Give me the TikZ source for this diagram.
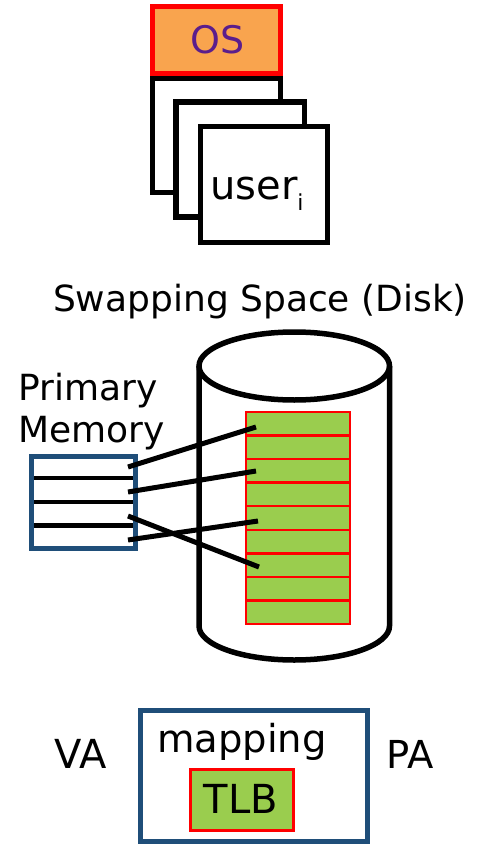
\documentclass[tikz,border=0pt]{standalone}
\usepackage{fontspec}
\setmainfont{DejaVu Sans}
\definecolor{osfill}{HTML}{F9A44E}
\definecolor{ospurple}{HTML}{5B1E8C}
\definecolor{pagegreen}{HTML}{9ACD4E}
\definecolor{memblue}{HTML}{1F4E79}
\begin{document}
\begin{tikzpicture}[x=1pt,y=-1pt,
  txt/.style={font=\fontsize{36}{42}\selectfont, inner sep=0pt},
  bigtxt/.style={font=\fontsize{39}{46}\selectfont, inner sep=0pt},
  proc/.style={draw=black, fill=white, line width=5.5pt},
  pagecell/.style={draw=red, fill=pagegreen, line width=2.5pt, minimum width=104pt, minimum height=23.55pt, inner sep=0pt},
  memrow/.style={minimum width=104pt, minimum height=23pt, inner sep=0pt},
  link/.style={line width=5pt, line cap=butt}]
\useasboundingbox (0,0) rectangle (484,845);

% process images: OS header on a stack of user pages
\draw[proc] (152.5,78.5) rectangle (280.5,192.5);
\draw[proc] (176,102) rectangle (304.5,217);
\draw[proc] (200.5,126.5) rectangle (327.5,242.5);
\draw[draw=red, fill=osfill, line width=5pt] (152.5,6.5) rectangle (280.5,74);
\node[bigtxt, font=\fontsize{38}{44}\selectfont, text=ospurple] (os) at (218,40) {OS};
\node[bigtxt, font=\fontsize{40}{46}\selectfont, anchor=base west] (user) at (210,200) {user\raisebox{-10pt}{\fontsize{22}{26}\selectfont i}};

% swap disk
\node[txt, anchor=base] (swaplbl) at (260,311) {Swapping Space (Disk)};
\draw[line width=5.5pt] (199,366) -- (199,626) arc[start angle=180, end angle=0, x radius=95.25, y radius=34] -- (389.5,366);
\draw[line width=5.5pt] (294.25,366) ellipse [x radius=95.25, y radius=34];

% pages on disk
\foreach \i in {1,...,9} {
  \node[pagecell] (c\i) at (298, {412+(\i-0.5)*23.55}) {};
}

% primary memory
\node[txt, anchor=base west] (pmlbl1) at (18,400) {Primary};
\node[txt, anchor=base west] (pmlbl2) at (18,442) {Memory};
\foreach \i in {1,...,4} {
  \node[memrow] (m\i) at (84, {456.5+(\i-0.5)*23}) {};
}
\draw[line width=4.5pt] (32,478) -- (136,478);
\draw[line width=4.5pt] (32,502) -- (136,502);
\draw[line width=4.5pt] (32,525.5) -- (136,525.5);
\draw[draw=memblue, line width=4.7pt] (31.5,456.5) rectangle (135.5,548.5);

% frame to page mappings
\coordinate (s1) at (128,467);
\coordinate (s2) at (128,492);
\coordinate (s3) at (128,516);
\coordinate (s4) at (128,540);
\coordinate (e1) at (256,427);
\coordinate (e2) at (256,471);
\coordinate (e3) at (259,567);
\coordinate (e4) at (258,521);
\draw[link] (s1) -- (e1);
\draw[link] (s2) -- (e2);
\draw[link] (s3) -- (e3);
\draw[link] (s4) -- (e4);

% address translation
\draw[draw=memblue, line width=5pt] (140.5,710) rectangle (367.5,841.5);
\node[bigtxt, font=\fontsize{38.5}{44}\selectfont, anchor=base] (map) at (242,752) {mapping};
\node[draw=red, fill=pagegreen, line width=3.3pt, minimum width=103pt, minimum height=61pt, inner sep=0pt] (tlb) at (242,800) {};
\node[bigtxt, font=\fontsize{40}{46}\selectfont, anchor=base] at (241,813) {TLB};
\node[bigtxt, font=\fontsize{40}{46}\selectfont, anchor=base] (va) at (81,768) {VA};
\node[bigtxt, font=\fontsize{38.5}{44}\selectfont, anchor=base] (pa) at (410,768) {PA};
\end{tikzpicture}
\end{document}
